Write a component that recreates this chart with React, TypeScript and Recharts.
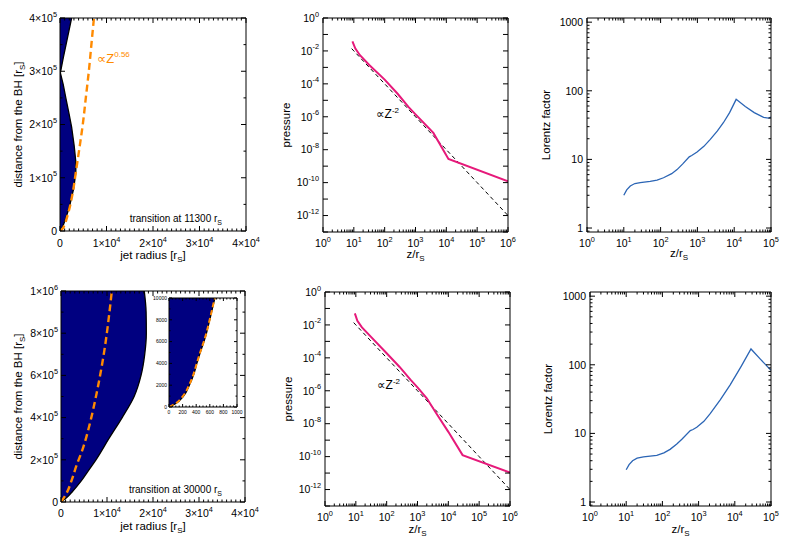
import React from 'react';
import { ComposedChart, Line, Area, XAxis, YAxis, CartesianGrid } from 'recharts';

const FONT = '"Liberation Sans", Arial, Helvetica, "DejaVu Sans", sans-serif';
const NAVY = '#000080';
const ORANGE = '#FF8A00';
const PINK = '#E6197A';
const BLUE = '#2B65B5';

// ---- jet shape, upper row (transition at 11300 rS): radius r at height z ----
const jetTopZ = [0, 3000, 10000, 20000, 35000, 50000, 80000, 110000, 130000, 160000, 195000, 220000, 250000, 275000, 297000, 325000, 350000, 375000, 400000];
const jetTopR = [0, 300, 650, 1100, 1650, 2150, 2950, 3400, 3400, 3050, 2500, 1950, 1250, 700, 80, 700, 1300, 1900, 2500];
const fitTopZ = [0, 5000, 10000, 30000, 70000, 110000, 160000, 200000, 250000, 300000, 350000, 400000];
const fitTopR = [0, 620, 900, 1650, 2700, 3400, 4250, 4900, 5550, 6200, 6750, 7300];

// ---- jet shape, lower row (transition at 30000 rS) ----
const jetBotZ = [0, 20000, 50000, 100000, 150000, 200000, 300000, 400000, 500000, 600000, 700000, 800000, 900000, 1000000];
const jetBotR = [0, 1200, 2500, 4400, 6000, 7600, 10400, 13300, 15900, 17400, 18200, 18550, 18500, 18100];
const fitBotZ = [0, 43000, 104000, 166000, 260000, 374000, 517000, 687000, 1000000];
const fitBotR = [0, 1240, 2330, 3260, 4850, 6300, 7760, 9200, 11050];

// inset (zoom on the jet base)
const insetZ = [0, 300, 1000, 2000, 3000, 4000, 5000, 6500, 8000, 10000];
const insetR = [0, 95, 215, 300, 365, 410, 460, 540, 600, 675];
const insetFitR = [0, 90, 205, 295, 360, 408, 458, 537, 598, 672];

// ---- pressure ----
const pzTop = [9, 11.2, 15.8, 31.6, 100, 263, 589, 1000, 3800, 11700, 1e6];
const ppTop = [3.8e-2, 1.4e-2, 5.5e-3, 1.4e-3, 1.8e-4, 2.5e-5, 4.0e-6, 1.4e-6, 1.05e-7, 2.75e-9, 1.2e-10];
const pzBot = [9.3, 11.2, 15.8, 31.6, 100, 263, 589, 1000, 2000, 4000, 10000, 29000, 1e6];
const ppBot = [5.0e-2, 1.8e-2, 7.1e-3, 1.8e-3, 1.9e-4, 2.8e-5, 4.8e-6, 1.6e-6, 3.5e-7, 4.5e-8, 3.2e-9, 1.23e-10, 1.07e-11];
const refZ = [8.5, 10, 100, 1000, 1e4, 1e5, 1e6];
const refP = [1.38e-2, 1e-2, 1e-4, 1e-6, 1e-8, 1e-10, 1e-12];

// ---- Lorentz factor ----
const gzTop = [10, 12, 15, 20, 28, 52, 80, 120, 200, 280, 400, 600, 700, 980, 1500, 2240, 3500, 5130, 7500, 11300, 20000, 35000, 63000, 85000, 100000];
const ggTop = [3.0, 3.6, 4.1, 4.45, 4.6, 4.8, 5.0, 5.4, 6.2, 7.1, 8.6, 10.9, 11.4, 12.8, 15.5, 19.6, 26, 34.5, 48, 75, 59, 48, 41, 40, 41.5];
const gzBot = [10, 12, 15, 20, 30, 70, 110, 163, 250, 345, 590, 700, 890, 1400, 2090, 4000, 7450, 15000, 28000, 50000, 100000];
const ggBot = [2.95, 3.5, 4.0, 4.35, 4.55, 4.8, 5.2, 5.85, 7.0, 8.2, 11.0, 11.4, 12.3, 15, 19.4, 31, 51, 95, 170, 122, 83];

const pairs = (zs: number[], vs: number[], k: string) => zs.map((z, i) => ({ z, [k]: vs[i] }));

// ---- ticks ----
const linTicks = (lo: number, hi: number, step: number) => {
  const out: number[] = [];
  for (let v = lo; v <= hi + 1e-9; v += step) out.push(Math.round(v));
  return out;
};
const logTicks = (lo: number, hi: number, minors = true) => {
  const out: number[] = [];
  for (let e = lo; e < hi; e++) {
    const b = Math.pow(10, e);
    out.push(b);
    if (minors) for (let k = 2; k < 10; k++) out.push(k * b);
  }
  out.push(Math.pow(10, hi));
  return out;
};

type Lab = { t: string; e?: string } | null;
type Side = 'bottom' | 'left' | 'top' | 'right';

const near = (a: number, b: number) => a === b || Math.abs(a - b) <= 1e-9 * Math.max(Math.abs(a), Math.abs(b));
const expOf = (v: number) => Math.round(Math.log10(v));
const sciLab = (v: number): Lab => {
  if (v === 0) return { t: '0' };
  const e = Math.floor(Math.log10(v) + 1e-9);
  return { t: `${Math.round(v / Math.pow(10, e))}×10`, e: String(e) };
};
const powLab = (v: number): Lab => ({ t: '10', e: String(expOf(v)) });
const evenPowLab = (v: number): Lab => (expOf(v) % 2 === 0 ? powLab(v) : null);
const plainLab = (v: number): Lab => ({ t: String(v) });

const labNode = (lab: { t: string; e?: string }, fs: number) => (
  <>
    {lab.t}
    {lab.e !== undefined && (
      <tspan dy={-fs * 0.5} fontSize={fs * 0.7}>
        {lab.e}
      </tspan>
    )}
  </>
);

function makeTick(side: Side, majors: number[], label: ((v: number) => Lab) | null, fs: number, gap: number, maj: number, min: number) {
  return (props: any) => {
    const x = Number(props.x);
    const y = Number(props.y);
    const v = Number(props.payload?.value);
    const isMaj = majors.some((m) => near(m, v));
    const len = isMaj ? maj : min;
    const dx = side === 'left' ? len : side === 'right' ? -len : 0;
    const dy = side === 'bottom' ? -len : side === 'top' ? len : 0;
    const lab = isMaj && label ? label(v) : null;
    let txt = null;
    if (lab) {
      txt =
        side === 'bottom' ? (
          <text x={x} y={y + gap} textAnchor="middle" fontSize={fs} fontFamily={FONT} fill="#000">
            {labNode(lab, fs)}
          </text>
        ) : (
          <text x={x - gap} y={y + fs * 0.36} textAnchor="end" fontSize={fs} fontFamily={FONT} fill="#000">
            {labNode(lab, fs)}
          </text>
        );
    }
    return (
      <g>
        <line x1={x} y1={y} x2={x + dx} y2={y + dy} stroke="#000" strokeWidth={1} />
        {txt}
      </g>
    );
  };
}

interface Ax {
  domain: [number, number];
  ticks: number[];
  majors: number[];
  label: (v: number) => Lab;
  log?: boolean;
  dataKey?: string;
  reversed?: boolean;
}
interface FrameOpt {
  x: Ax;
  y: Ax;
  L: number;
  B: number;
  fs: number;
  xGap: number;
  yGap: number;
  xTitle?: React.ReactNode;
  yTitle?: React.ReactNode;
  xTitleDy?: number;
  yTitleDx?: number;
  tfs?: number;
  maj?: number;
  min?: number;
}

function frame(o: FrameOpt) {
  const maj = o.maj ?? 5;
  const min = o.min ?? 2.5;
  const tfs = o.tfs ?? 11.5;
  const common = (a: Ax) => ({
    type: 'number' as const,
    dataKey: a.dataKey,
    scale: a.log ? ('log' as const) : ('linear' as const),
    domain: a.domain,
    allowDataOverflow: true,
    ticks: a.ticks,
    interval: 0 as const,
    tickSize: 0,
    tickMargin: 0,
    tickLine: false,
    axisLine: { stroke: '#000', strokeWidth: 1 },
  });
  const xTitle = o.xTitle
    ? (p: any) => {
        const vb = p?.viewBox;
        if (!vb) return null;
        return (
          <text x={vb.x + vb.width / 2} y={vb.y + (o.xTitleDy ?? 26)} textAnchor="middle" fontSize={tfs} fontFamily={FONT} fill="#000">
            {o.xTitle}
          </text>
        );
      }
    : undefined;
  const yTitle = o.yTitle
    ? (p: any) => {
        const vb = p?.viewBox;
        if (!vb) return null;
        const bx = vb.x + vb.width - (o.yTitleDx ?? 34);
        const cy = vb.y + vb.height / 2;
        return (
          <text x={bx} y={cy} transform={`rotate(-90 ${bx} ${cy})`} textAnchor="middle" fontSize={tfs} fontFamily={FONT} fill="#000">
            {o.yTitle}
          </text>
        );
      }
    : undefined;
  return [
    <XAxis key="xb" xAxisId="b" {...common(o.x)} height={o.B} tick={makeTick('bottom', o.x.majors, o.x.label, o.fs, o.xGap, maj, min)} label={xTitle} />,
    <XAxis key="xt" xAxisId="t" orientation="top" mirror {...common(o.x)} tick={makeTick('top', o.x.majors, null, o.fs, 0, maj, min)} />,
    <YAxis key="yl" yAxisId="l" {...common(o.y)} reversed={o.y.reversed} width={o.L} tick={makeTick('left', o.y.majors, o.y.label, o.fs, o.yGap, maj, min)} label={yTitle} />,
    <YAxis key="yr" yAxisId="r" orientation="right" mirror {...common(o.y)} reversed={o.y.reversed} tick={makeTick('right', o.y.majors, null, o.fs, 0, maj, min)} />,
  ];
}

const sub = (s: string) => (
  <tspan dy={3} fontSize={8}>
    {s}
  </tspan>
);
const jetTitle = (
  <>
    jet radius [r{sub('S')}
    <tspan dy={-3}>]</tspan>
  </>
);
const distTitle = (
  <>
    distance from the BH [r{sub('S')}
    <tspan dy={-3}>]</tspan>
  </>
);
const zTitle = <>z/r{sub('S')}</>;

const Pos = ({ left, top, children }: { left: number; top: number; children: React.ReactNode }) => (
  <div style={{ position: 'absolute', left, top }}>{children}</div>
);

export default function App() {
  const rTicks = linTicks(0, 40000, 1000);
  const rMaj = linTicks(0, 40000, 10000);
  const pzTicks = logTicks(0, 6);
  const pzMaj = logTicks(0, 6, false);
  const ppTicks = logTicks(-13, 0, false);
  const gzTicks = logTicks(0, 5);
  const gzMaj = logTicks(0, 5, false);
  const ggTicks = [0.9, ...logTicks(0, 3)];
  const ggMaj = logTicks(0, 3, false);

  const pressAx = (zs: number[], ps: number[], dy: number) => (
    <ComposedChart width={52 + 185 + 14} height={14 + 214 + 44} margin={{ top: 14, right: 14, bottom: 0, left: 0 }}>
      <Line xAxisId="b" yAxisId="l" data={pairs(refZ, refP, 'p')} dataKey="p" type="linear" stroke="#000" strokeWidth={1} strokeDasharray="4 3" dot={false} isAnimationActive={false} />
      <Line xAxisId="b" yAxisId="l" data={pairs(zs, ps, 'p')} dataKey="p" type="linear" stroke={PINK} strokeWidth={2} dot={false} isAnimationActive={false} />
      {frame({
        x: { domain: [1, 1e6], ticks: pzTicks, majors: pzMaj, label: powLab, log: true, dataKey: 'z' },
        y: { domain: [1e-13, 1], ticks: ppTicks, majors: ppTicks, label: evenPowLab, log: true },
        L: 52,
        B: 44,
        fs: 10.5,
        xGap: 15,
        yGap: 4,
        xTitle: zTitle,
        yTitle: 'pressure',
        xTitleDy: dy,
        yTitleDx: 33,
      })}
    </ComposedChart>
  );

  const lorentz = (zs: number[], gs: number[], w: number, dy: number, dx: number) => (
    <ComposedChart width={52 + w + 16} height={14 + 214 + 44} margin={{ top: 14, right: 16, bottom: 0, left: 0 }}>
      <Line xAxisId="b" yAxisId="l" data={pairs(zs, gs, 'g')} dataKey="g" type="linear" stroke={BLUE} strokeWidth={1.3} dot={false} isAnimationActive={false} />
      {frame({
        x: { domain: [1, 1e5], ticks: gzTicks, majors: gzMaj, label: powLab, log: true, dataKey: 'z' },
        y: { domain: [0.875, 1150], ticks: ggTicks, majors: ggMaj, label: plainLab, log: true },
        L: 52,
        B: 44,
        fs: 10.5,
        xGap: 15,
        yGap: 4,
        xTitle: zTitle,
        yTitle: 'Lorentz factor',
        xTitleDy: dy,
        yTitleDx: dx,
      })}
    </ComposedChart>
  );

  return (
    <div style={{ position: 'absolute', left: 0, top: 0, width: 790, height: 543, background: '#fff', fontFamily: FONT }}>
      {/* upper left: jet shape */}
      <Pos left={0} top={4}>
        <ComposedChart layout="vertical" width={60 + 186 + 18} height={14 + 213 + 44} margin={{ top: 14, right: 18, bottom: 0, left: 0 }}>
          <Area xAxisId="b" yAxisId="l" data={pairs(jetTopZ, jetTopR, 'r')} dataKey="r" type="linear" fill={NAVY} fillOpacity={1} stroke="#000" strokeWidth={1.3} isAnimationActive={false} />
          <Line xAxisId="b" yAxisId="l" data={pairs(fitTopZ, fitTopR, 'r')} dataKey="r" type="monotone" stroke={ORANGE} strokeWidth={2.4} strokeDasharray="7 4" dot={false} isAnimationActive={false} />
          {frame({
            x: { domain: [0, 40000], ticks: rTicks, majors: rMaj, label: sciLab },
            y: { domain: [0, 400000], ticks: linTicks(0, 400000, 50000), majors: linTicks(0, 400000, 100000), label: sciLab, dataKey: 'z', reversed: true },
            L: 60,
            B: 44,
            fs: 10.5,
            xGap: 16,
            yGap: 3,
            xTitle: jetTitle,
            yTitle: distTitle,
            xTitleDy: 28,
            yTitleDx: 38,
          })}
        </ComposedChart>
      </Pos>

      <Pos left={271} top={4}>{pressAx(pzTop, ppTop, 26)}</Pos>
      <Pos left={535} top={4}>{lorentz(gzTop, ggTop, 184, 25, 37)}</Pos>

      {/* lower left: jet shape */}
      <Pos left={0} top={277}>
        <ComposedChart layout="vertical" width={61 + 184 + 18} height={14 + 211 + 44} margin={{ top: 14, right: 18, bottom: 0, left: 0 }}>
          <Area xAxisId="b" yAxisId="l" data={pairs(jetBotZ, jetBotR, 'r')} dataKey="r" type="monotone" fill={NAVY} fillOpacity={1} stroke="#000" strokeWidth={1.3} isAnimationActive={false} />
          <Line xAxisId="b" yAxisId="l" data={pairs(fitBotZ, fitBotR, 'r')} dataKey="r" type="monotone" stroke={ORANGE} strokeWidth={2.4} strokeDasharray="7 4" dot={false} isAnimationActive={false} />
          {frame({
            x: { domain: [0, 40000], ticks: rTicks, majors: rMaj, label: sciLab },
            y: { domain: [0, 1000000], ticks: linTicks(0, 1000000, 100000), majors: linTicks(0, 1000000, 200000), label: sciLab, dataKey: 'z', reversed: true },
            L: 61,
            B: 44,
            fs: 10.5,
            xGap: 15,
            yGap: 3,
            xTitle: jetTitle,
            yTitle: distTitle,
            xTitleDy: 28,
            yTitleDx: 39,
          })}
        </ComposedChart>
      </Pos>

      {/* inset */}
      <Pos left={153} top={294}>
        <ComposedChart layout="vertical" width={16 + 68 + 12} height={4 + 109 + 12} margin={{ top: 4, right: 12, bottom: 0, left: 0 }}>
          <CartesianGrid xAxisId="b" yAxisId="l" fill="#fff" stroke="none" horizontal={false} vertical={false} />
          <Area xAxisId="b" yAxisId="l" data={pairs(insetZ, insetR, 'r')} dataKey="r" type="monotone" fill={NAVY} fillOpacity={1} stroke="#000" strokeWidth={1.2} isAnimationActive={false} />
          <Line xAxisId="b" yAxisId="l" data={pairs(insetZ, insetFitR, 'r')} dataKey="r" type="monotone" stroke={ORANGE} strokeWidth={2} strokeDasharray="5 3" dot={false} isAnimationActive={false} />
          {frame({
            x: { domain: [0, 1000], ticks: linTicks(0, 1000, 50), majors: linTicks(0, 1000, 200), label: plainLab },
            y: { domain: [0, 10000], ticks: linTicks(0, 10000, 1000), majors: linTicks(0, 10000, 2000), label: plainLab, dataKey: 'z', reversed: true },
            L: 16,
            B: 12,
            fs: 5,
            xGap: 6.5,
            yGap: 2,
            maj: 3,
            min: 1.5,
          })}
        </ComposedChart>
      </Pos>

      <Pos left={273} top={278}>{pressAx(pzBot, ppBot, 27)}</Pos>
      <Pos left={538} top={278}>{lorentz(gzBot, ggBot, 181, 27, 38)}</Pos>

      {/* annotations */}
      <svg width={790} height={543} style={{ position: 'absolute', left: 0, top: 0, pointerEvents: 'none' }}>
        <text x={97} y={63} fontSize={13} fill={ORANGE} fontFamily={FONT}>
          ∝Z
          <tspan dy={-6} fontSize={8}>
            0.56
          </tspan>
        </text>
        <text x={222} y={222} textAnchor="end" fontSize={10} fontFamily={FONT}>
          transition at 11300 r
          <tspan dy={2.5} fontSize={7}>
            S
          </tspan>
        </text>
        <text x={222} y={493} textAnchor="end" fontSize={10} fontFamily={FONT}>
          transition at 30000 r
          <tspan dy={2.5} fontSize={7}>
            S
          </tspan>
        </text>
        <text x={376} y={118} fontSize={12} fontFamily={FONT}>
          ∝Z
          <tspan dy={-5} fontSize={8}>
            -2
          </tspan>
        </text>
        <text x={377} y={389} fontSize={12} fontFamily={FONT}>
          ∝Z
          <tspan dy={-5} fontSize={8}>
            -2
          </tspan>
        </text>
      </svg>
    </div>
  );
}
